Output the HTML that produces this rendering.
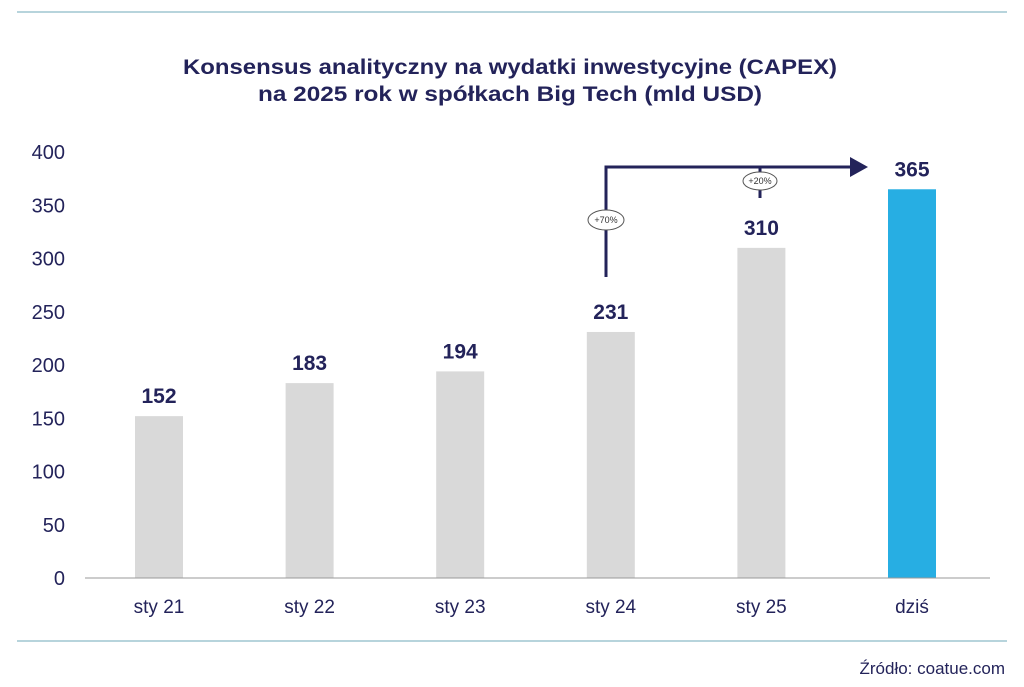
<!DOCTYPE html>
<html><head><meta charset="utf-8"><style>
body{margin:0;background:#fff;font-family:"Liberation Sans",sans-serif;}
svg{display:block}
</style></head><body>
<svg width="1024" height="687" viewBox="0 0 1024 687">
<line x1="17" y1="12" x2="1007" y2="12" stroke="#6fa8b8" stroke-width="1"/>
<text x="510" y="74" text-anchor="middle" font-size="21" font-weight="bold" fill="#23235a" textLength="654" lengthAdjust="spacingAndGlyphs">Konsensus analityczny na wydatki inwestycyjne (CAPEX)</text>
<text x="510" y="101" text-anchor="middle" font-size="21" font-weight="bold" fill="#23235a" textLength="504" lengthAdjust="spacingAndGlyphs">na 2025 rok w spółkach Big Tech (mld USD)</text>
<g id="yaxis"></g>
<g id="bars"></g>
<line x1="85" y1="578" x2="990" y2="578" stroke="#999" stroke-width="1"/>
<g>
<polyline points="606,277 606,167 852,167" fill="none" stroke="#23235a" stroke-width="3"/>
<polygon points="850,157 868,167 850,177" fill="#23235a"/>
<line x1="760" y1="167" x2="760" y2="198" stroke="#23235a" stroke-width="3"/>
<ellipse cx="606" cy="220" rx="18" ry="10" fill="#fff" stroke="#555" stroke-width="1"/>
<text x="606" y="223" text-anchor="middle" font-size="9" fill="#333">+70%</text>
<ellipse cx="760" cy="181" rx="17" ry="9" fill="#fff" stroke="#555" stroke-width="1"/>
<text x="760" y="184" text-anchor="middle" font-size="9" fill="#333">+20%</text>
</g>
<line x1="17" y1="641" x2="1007" y2="641" stroke="#6fa8b8" stroke-width="1"/>
<text x="1005" y="674" text-anchor="end" font-size="17" fill="#23235a">Źródło: coatue.com</text>
</svg>
<script>
const categories=["sty 21","sty 22","sty 23","sty 24","sty 25","dziś"];
const values=[152,183,194,231,310,365];
const yTicks=[0,50,100,150,200,250,300,350,400];
const NS="http://www.w3.org/2000/svg";
const y0=578,yTop=152,yMax=400;
function y(v){return y0-(v/yMax)*(y0-yTop);}
function xc(i){return 159+i*150.6;}
const ya=document.getElementById('yaxis');
yTicks.forEach(t=>{
 const tx=document.createElementNS(NS,'text');
 
 
 tx.setAttribute('x',65);tx.setAttribute('y',y(t)+7);
 tx.setAttribute('text-anchor','end');
 tx.setAttribute('font-size','20');tx.setAttribute('fill','#23235a');
 tx.textContent=t;ya.appendChild(tx);
});
const bg=document.getElementById('bars');
categories.forEach((c,i)=>{
 const v=values[i],last=i===categories.length-1;
 const r=document.createElementNS(NS,'rect');
 
 
 r.setAttribute('x',xc(i)-24);r.setAttribute('width',48);
 r.setAttribute('y',y(v));r.setAttribute('height',y0-y(v));
 r.setAttribute('fill',last?'#27aee3':'#d9d9d9');bg.appendChild(r);
 const l=document.createElementNS(NS,'text');
 
 
 l.setAttribute('x',xc(i));l.setAttribute('y',y(v)-13);
 l.setAttribute('text-anchor','middle');l.setAttribute('font-size','21');
 l.setAttribute('font-weight','bold');l.setAttribute('fill','#23235a');
 l.textContent=v;bg.appendChild(l);
 const cl=document.createElementNS(NS,'text');
 
 
 cl.setAttribute('x',xc(i));cl.setAttribute('y',613);
 cl.setAttribute('text-anchor','middle');cl.setAttribute('font-size','19');
 cl.setAttribute('fill','#23235a');cl.textContent=c;bg.appendChild(cl);
});
</script>
</body></html>
